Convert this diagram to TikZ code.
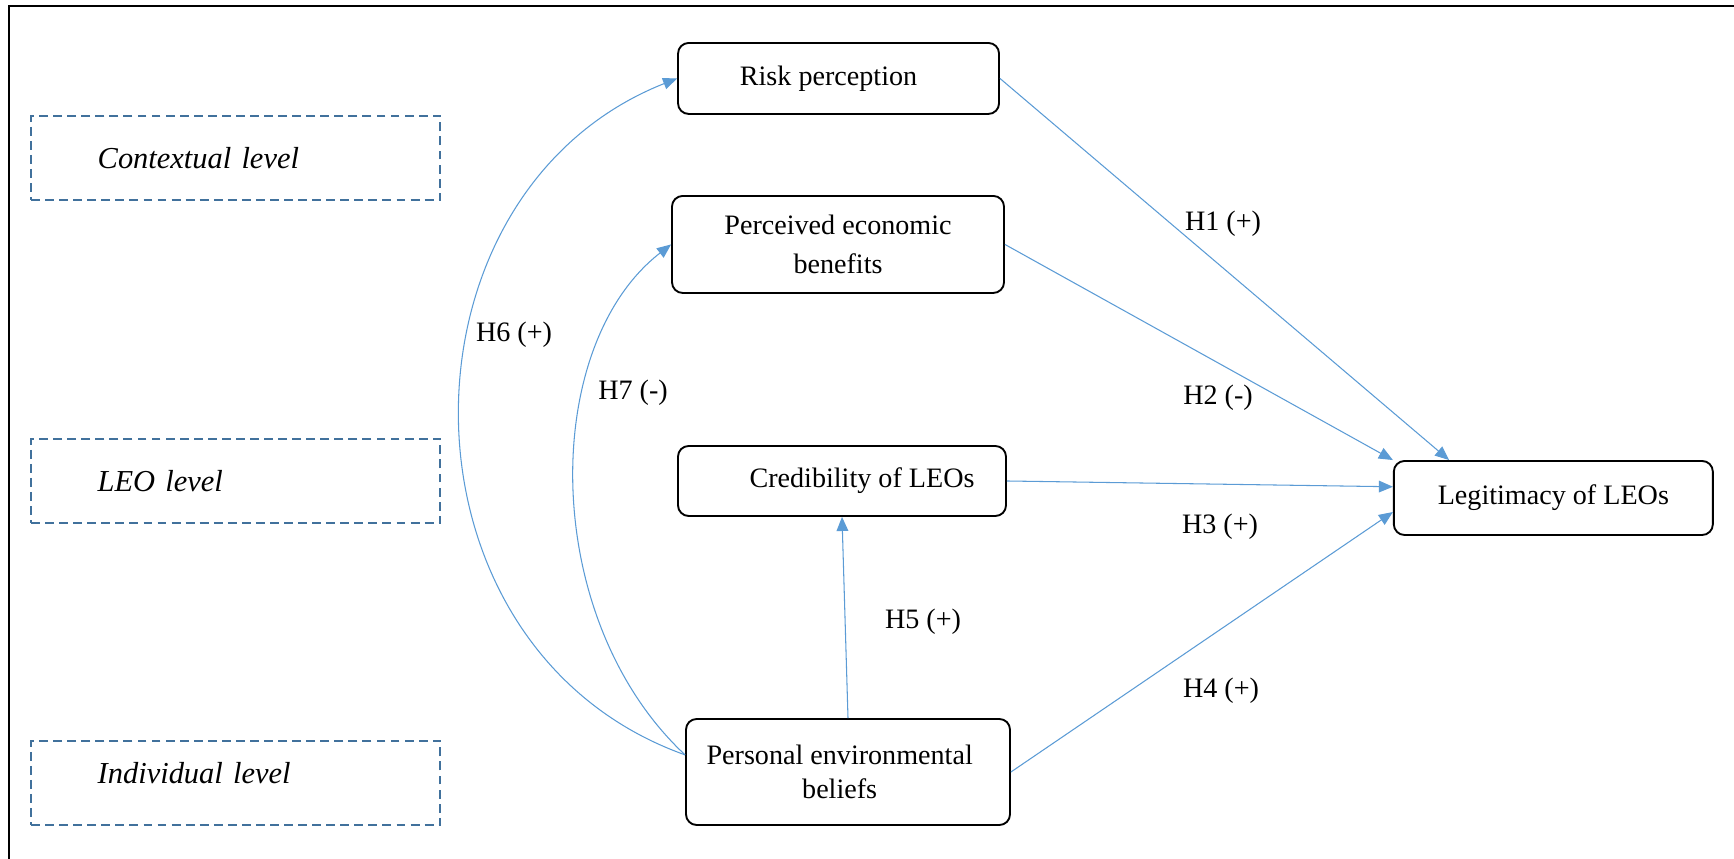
\documentclass[tikz,border=0pt]{standalone}
\usepackage{fontspec}
\setmainfont{Liberation Serif}
\usetikzlibrary{arrows.meta}
\definecolor{levelblue}{RGB}{65,113,156}
\definecolor{linkblue}{RGB}{91,155,213}
\tikzset{
	levelbox/.style={draw=levelblue, line width=0.8pt, dash pattern=on 3.8pt off 2.2pt, minimum width=6.135cm, minimum height=1.27cm, text width=4.135cm, inner xsep=1cm, align=left, font=\fontsize{13}{15}\selectfont\itshape},
	factor/.style={draw, rounded corners=0.16cm, line width=0.8pt, align=center, inner sep=0pt, font=\fontsize{12}{14.5}\selectfont},
	link/.style={draw=linkblue, line width=0.45pt, -{Triangle[length=6pt,width=5pt]}},
	hyp/.style={inner sep=1pt, font=\fontsize{12}{14}\selectfont}
}
\begin{document}
\begin{tikzpicture}
		\useasboundingbox (0,0) rectangle (26.01,12.885);
		\draw[line width=1.1pt] (0.135,0) -- (0.135,12.795) -- (26.01,12.795);
		% levels
		\node[levelbox] (ctx) at (3.533,10.515) {Contextual level};
		\node[levelbox] (leo) at (3.533,5.67) {LEO level};
		\node[levelbox, text depth=0.3cm] (indiv) at (3.533,1.14) {Individual level};
		% factors
		\node[factor, minimum width=4.815cm, minimum height=1.065cm] (risk) at (12.578,11.708) {Risk perception\hspace*{0.3cm}};
		\node[factor, minimum width=4.98cm, minimum height=1.455cm, font=\fontsize{12}{17}\selectfont] (econ) at (12.57,9.218) {Perceived economic\\benefits};
		\node[factor, minimum width=4.92cm, minimum height=1.05cm] (cred) at (12.63,5.67) {\hspace*{0.6cm}Credibility of LEOs};
		\node[factor, minimum width=4.785cm, minimum height=1.11cm] (legit) at (23.3,5.415) {Legitimacy of LEOs};
		\node[factor, minimum width=4.86cm, minimum height=1.59cm] (belief) at (12.72,1.305) {Personal environmental\hspace*{0.25cm}\\beliefs\hspace*{0.25cm}};
		% hypotheses
		\draw[link] (risk.east) -- (legit.160);
		\draw[link] (econ.east) -- (legit.north west);
		\draw[link] (cred.east) -- (legit.176);
		\draw[link] (belief.east) -- (legit.185);
		\draw[link] (belief.north) -- (cred.south);
		\draw[link] (belief.174) .. controls (5.795,3.16) and (5.795,9.98) .. (risk.west);
		\draw[link] (belief.174) .. controls (8.095,3.6) and (8.095,7.69) .. (econ.west);
		\node[hyp] (h1) at (18.345,9.525) {H1 (+)};
		\node[hyp] (h2) at (18.27,6.915) {H2 (-)};
		\node[hyp] (h3) at (18.3,4.98) {H3 (+)};
		\node[hyp] (h4) at (18.315,2.52) {H4 (+)};
		\node[hyp] (h5) at (13.845,3.555) {H5 (+)};
		\node[hyp] (h6) at (7.71,7.86) {H6 (+)};
		\node[hyp] (h7) at (9.495,6.99) {H7 (-)};
	\end{tikzpicture}
\end{document}
